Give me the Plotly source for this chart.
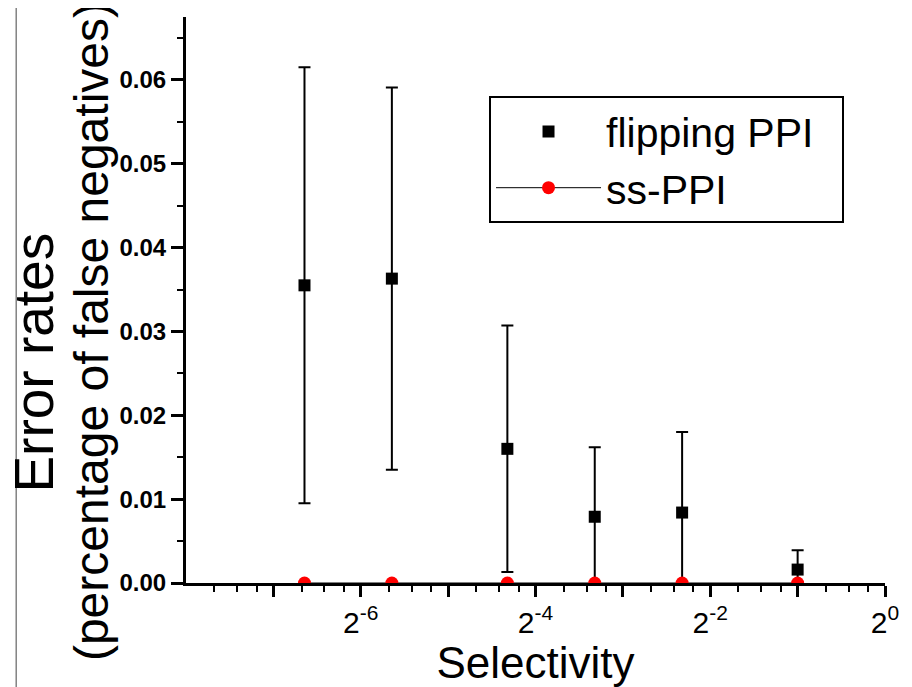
import plotly.graph_objects as go

# selectivity values (x) and error rates
selectivity = [0.01, 0.02, 0.05, 0.1, 0.2, 0.5]
flipping_ppi = [0.0355, 0.0363, 0.0160, 0.0079, 0.0084, 0.0016]
flipping_err = [0.0260, 0.0228, 0.0147, 0.0083, 0.0096, 0.0023]
ss_ppi = [0.0, 0.0, 0.0, 0.0, 0.0, 0.0]

x_tickvals = [2**-7, 2**-6, 2**-5, 2**-4, 2**-3, 2**-2, 2**-1, 2**0]
x_ticktext = ["", "2<sup>-6</sup>", "", "2<sup>-4</sup>", "", "2<sup>-2</sup>", "", "2<sup>0</sup>"]
# Origin style minor ticks: 1.25, 1.5, 1.75 times each power of two
x_minor = [m * 2**k for k in range(-8, 0) for m in (1.25, 1.5, 1.75)]

FONT = "Liberation Sans, Arial, sans-serif"

fig = go.Figure()

fig.add_trace(go.Scatter(
    x=selectivity, y=flipping_ppi, name="flipping PPI\u00a0\u00a0", mode="markers",
    marker=dict(symbol="square", size=12, color="black"),
    error_y=dict(type="data", array=flipping_err, visible=True,
                 color="black", thickness=2, width=6),
))
fig.add_trace(go.Scatter(
    x=selectivity, y=ss_ppi, name="ss-PPI", mode="lines+markers",
    line=dict(color="black", width=1),
    marker=dict(symbol="circle", size=13, color="red"),
))

fig.update_xaxes(
    type="log", range=[-8 * 0.30103, 0],
    tickmode="array", tickvals=x_tickvals, ticktext=x_ticktext,
    ticks="outside", ticklen=11, tickwidth=3, tickcolor="black",
    minor=dict(tickvals=x_minor, ticks="outside", ticklen=6, tickwidth=2, tickcolor="black"),
    showline=True, linewidth=3, linecolor="black",
    showgrid=False, zeroline=False,
    tickfont=dict(family=FONT, size=30, color="black"),
    title=dict(text="Selectivity", font=dict(family=FONT, size=44, color="black"), standoff=2),
)
fig.update_yaxes(
    range=[0, 0.0675], dtick=0.01, tick0=0, tickformat=".2f",
    ticks="outside", ticklen=12, tickwidth=3, tickcolor="black",
    minor=dict(dtick=0.005, ticks="outside", ticklen=6, tickwidth=2, tickcolor="black"),
    showline=True, linewidth=3, linecolor="black",
    showgrid=False, zeroline=False,
    tickfont=dict(family=FONT, size=24, color="black", weight="bold"),
)

fig.add_annotation(text="Error rates", xref="paper", yref="paper",
                   x=-0.217, y=0.39, xanchor="center", yanchor="middle",
                   textangle=-90, showarrow=False,
                   font=dict(family=FONT, size=55, color="black"))
fig.add_annotation(text="(percentage of false negatives)", xref="paper", yref="paper",
                   x=-0.136, y=0.445, xanchor="center", yanchor="middle",
                   textangle=-90, showarrow=False,
                   font=dict(family=FONT, size=48, color="black"))

# thin frame line at the left edge of the picture
fig.add_shape(type="line", xref="paper", yref="paper",
              x0=-0.243, x1=-0.243, y0=-0.184, y1=1.016,
              line=dict(color="#444444", width=1))

# the page body adds an 8px offset, so the figure is 8px smaller
fig.update_layout(
    width=904, height=679,
    margin=dict(l=178, r=27, t=9, b=104),
    paper_bgcolor="white", plot_bgcolor="white",
    showlegend=True,
    legend=dict(x=0.4335, y=0.86, xanchor="left", yanchor="top",
                bgcolor="white", bordercolor="black", borderwidth=2,
                itemwidth=105, font=dict(family=FONT, size=41, color="black")),
)

fig.write_html("out.html")
